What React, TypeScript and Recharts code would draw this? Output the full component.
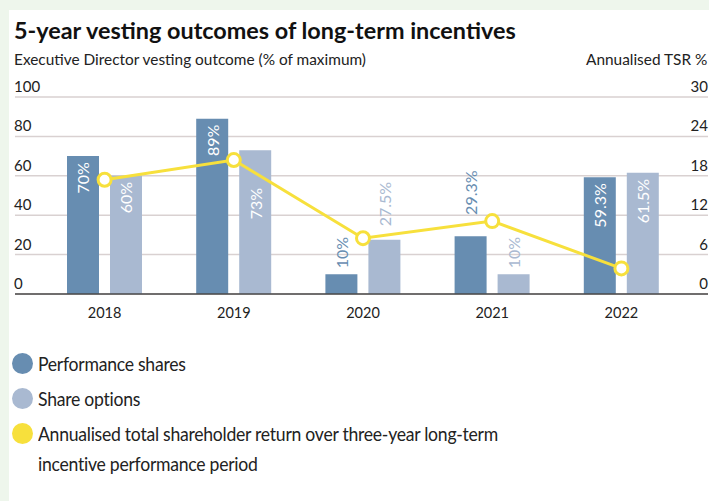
import React from "react";
import { ComposedChart, Bar, Line, XAxis, YAxis, CartesianGrid, LabelList } from "recharts";

// values
const years = ["2018", "2019", "2020", "2021", "2022"];
const performanceShares = [70, 89, 10, 29.3, 59.3];
const shareOptions = [60, 73, 27.5, 10, 61.5];
const annualisedTsr = [17.4, 20.4, 8.5, 11.1, 3.9];
const leftTicks = [0, 20, 40, 60, 80, 100];
const rightTicks = [0, 6, 12, 18, 24, 30];

const data = years.map((year, i) => ({
  year,
  perf: performanceShares[i],
  options: shareOptions[i],
  tsr: annualisedTsr[i],
}));

const PERF = "#678db1";
const OPTS = "#a9b9d1";
const YELLOW = "#f7e03c";
const FONT = "Lato, 'Open Sans', sans-serif";

const CHART_W = 709;
const MARGIN_LEFT = 14;
const PAD_LEFT = 25;
const PAD_RIGHT = 22;
const BAR_GAP = 11;
const BAND = (CHART_W - MARGIN_LEFT - PAD_LEFT - PAD_RIGHT) / years.length;

const legendItems = [
  { color: PERF, text: ["Performance shares"] },
  { color: OPTS, text: ["Share options"] },
  {
    color: YELLOW,
    text: [
      "Annualised total shareholder return over three-year long-term",
      "incentive performance period",
    ],
  },
];

// rough length of a rotated label in px
const labelLen = (s: string) => {
  let n = 0;
  for (const c of s) n += c === "%" ? 13 : c === "." ? 4 : 9.3;
  return n;
};

// labels dodge the TSR line like in the original
const makeBarLabel = (color: string, isPerf: boolean) => (props: any) => {
  const { x, y, width, height, value, index } = props;
  const bx = Number(x);
  const bw = Number(width);
  const top = Number(y);
  const bottom = top + Number(height);
  const v = Number(value);
  const cx = bx + bw / 2;
  const text = `${value}%`;
  const len = labelLen(text);
  const inside = v >= 40;

  // line y over the label's horizontal span
  const pxPerUnit = Number(height) / v;
  const lineY = (j: number) => bottom - (annualisedTsr[j] / 30) * 100 * pxPerUnit;
  const catX = isPerf ? bx + bw + BAR_GAP / 2 : bx - BAR_GAP / 2;
  const j0 = isPerf ? index - 1 : index;
  const j1 = isPerf ? index : index + 1;
  const x0 = isPerf ? catX - BAND : catX;
  let ys: number[] = [];
  if (j0 >= 0 && j1 < years.length) {
    const at = (px: number) => lineY(j0) + ((px - x0) / BAND) * (lineY(j1) - lineY(j0));
    ys = [at(cx - 8), at(cx + 8)];
  }

  let start: number;
  let end: number;
  if (inside) {
    start = top + 6;
    end = start + len;
    if (ys.length) {
      const lo = Math.min(...ys);
      const hi = Math.max(...ys);
      if (start < hi + 4 && end > lo - 4) {
        start = hi + 10;
      }
    }
  } else {
    end = top - 6;
    start = end - len;
    if (ys.length) {
      const lo = Math.min(...ys);
      const hi = Math.max(...ys);
      if (start < hi + 4 && end > lo - 4) {
        end = lo - 8;
      }
    }
  }
  const ty = inside ? start : end;

  return (
    <text
      x={cx}
      y={ty}
      transform={`rotate(-90, ${cx}, ${ty})`}
      textAnchor={inside ? "end" : "start"}
      dominantBaseline="central"
      fill={inside ? "#ffffff" : color}
      fontSize={16}
      fontFamily={FONT}
    >
      {text}
    </text>
  );
};

const renderLeftTick = (props: any) => (
  <text key={`l-${props.payload.value}`} x={14} y={props.y - 5} fontSize={15} fill="#222" fontFamily={FONT}>
    {props.payload.value}
  </text>
);

const renderRightTick = (props: any) => (
  <text key={`r-${props.payload.value}`} x={708} y={props.y - 5} fontSize={15} fill="#222" fontFamily={FONT} textAnchor="end">
    {props.payload.value}
  </text>
);

export default function App() {
  return (
    <div
      style={{
        position: "fixed",
        left: 0,
        top: 0,
        width: 709,
        height: 501,
        background: "#eef6ec",
        overflow: "hidden",
        fontFamily: FONT,
        color: "#222",
      }}
    >
      <div style={{ position: "absolute", left: 9, top: 10, width: 700, height: 491, background: "#fff" }} />
      <div style={{ position: "absolute", left: 14, top: 17, fontSize: 23.4, fontWeight: 700, color: "#111", lineHeight: "26px", whiteSpace: "nowrap" }}>
        5-year vesting outcomes of long-term incentives
      </div>
      <div style={{ position: "absolute", left: 14, top: 50, fontSize: 15.4, lineHeight: "19px", whiteSpace: "nowrap" }}>
        Executive Director vesting outcome (% of maximum)
      </div>
      <div style={{ position: "absolute", left: 586, top: 50, fontSize: 15.4, lineHeight: "19px", whiteSpace: "nowrap" }}>
        Annualised TSR %
      </div>
      <div style={{ position: "absolute", left: 0, top: 0 }}>
        <ComposedChart
          width={CHART_W}
          height={330}
          data={data}
          margin={{ top: 97, right: 0, left: MARGIN_LEFT, bottom: 6 }}
          barGap={BAR_GAP}
        >
          <CartesianGrid yAxisId="left" vertical={false} stroke="#d9d1d1" strokeWidth={1.5} />
          <XAxis
            dataKey="year"
            padding={{ left: PAD_LEFT, right: PAD_RIGHT }}
            tickLine={false}
            axisLine={{ stroke: "#4a4a4a", strokeWidth: 1.5 }}
            tick={{ fill: "#222", fontSize: 14.5, fontFamily: FONT }}
            tickMargin={8}
            height={30}
          />
          <YAxis yAxisId="left" domain={[0, 100]} ticks={leftTicks} interval={0} width={1} axisLine={false} tickLine={false} tick={renderLeftTick} />
          <YAxis yAxisId="right" orientation="right" domain={[0, 30]} ticks={rightTicks} interval={0} width={1} axisLine={false} tickLine={false} tick={renderRightTick} />
          <Bar yAxisId="left" dataKey="perf" fill={PERF} barSize={32} isAnimationActive={false}>
            <LabelList dataKey="perf" content={makeBarLabel(PERF, true)} />
          </Bar>
          <Bar yAxisId="left" dataKey="options" fill={OPTS} barSize={32} isAnimationActive={false}>
            <LabelList dataKey="options" content={makeBarLabel(OPTS, false)} />
          </Bar>
          <Line
            yAxisId="right"
            dataKey="tsr"
            type="linear"
            stroke={YELLOW}
            strokeWidth={3}
            dot={{ r: 6.5, fill: "#fff", stroke: YELLOW, strokeWidth: 3 }}
            isAnimationActive={false}
          />
        </ComposedChart>
      </div>
      {legendItems.map((item, i) => (
        <div key={i} style={{ position: "absolute", left: 12, top: 352 + i * 35, display: "flex", alignItems: "flex-start" }}>
          <div style={{ width: 21, height: 21, borderRadius: "50%", background: item.color, marginTop: 1, flexShrink: 0 }} />
          <div
            style={{
              marginLeft: 5,
              fontSize: 20,
              lineHeight: "30px",
              marginTop: -4,
              whiteSpace: "nowrap",
              letterSpacing: -0.3,
              transform: "scaleX(0.88)",
              transformOrigin: "left center",
            }}
          >
            {item.text.map((t, j) => (
              <div key={j}>{t}</div>
            ))}
          </div>
        </div>
      ))}
    </div>
  );
}
